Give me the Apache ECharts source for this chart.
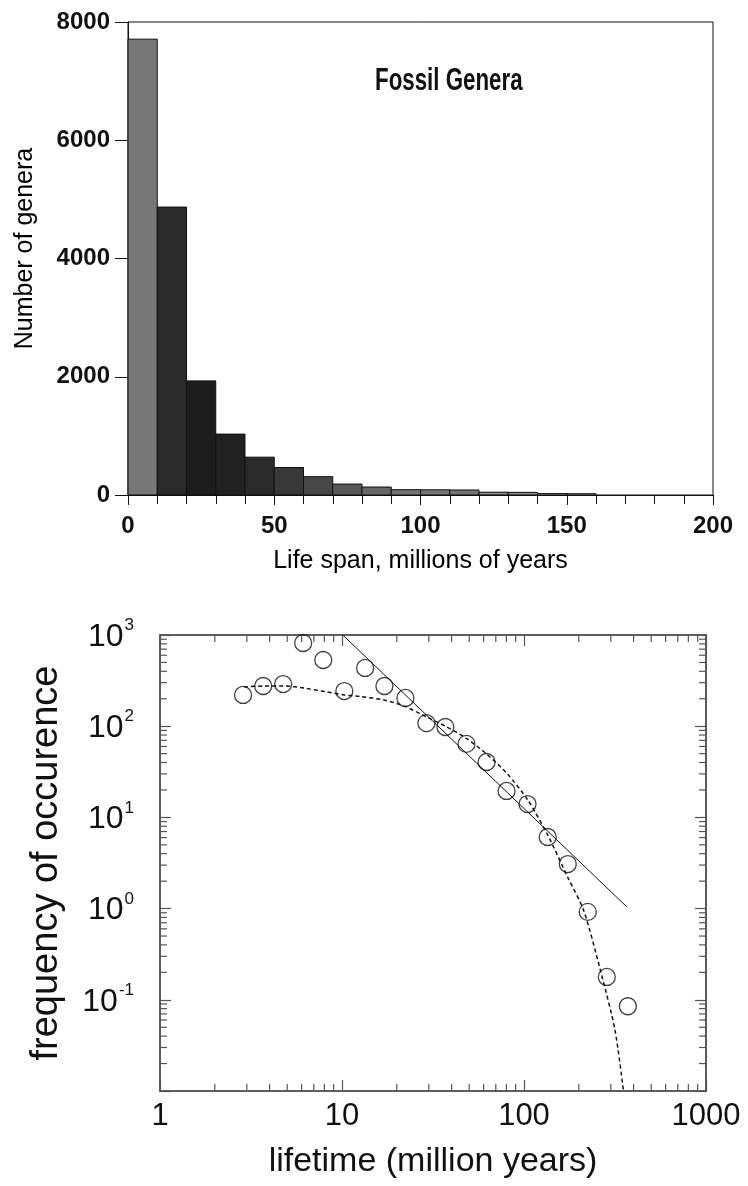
<!DOCTYPE html>
<html>
<head>
<meta charset="utf-8">
<script src="https://cdn.jsdelivr.net/npm/echarts@6/dist/echarts.min.js"></script>
<style>
  html, body { margin: 0; padding: 0; background: #fff; }
  #chart { width: 748px; height: 1186px; }
</style>
</head>
<body>
<div id="chart"></div>
<script>
// top: histogram of fossil genera life spans (bin start, 10 My wide)
const binStarts = [0, 10, 20, 30, 40, 50, 60, 70, 80, 90, 100, 110, 120, 130, 140, 150];
const binCounts = [7710, 4870, 1930, 1030, 640, 465, 310, 185, 135, 90, 88, 85, 48, 45, 24, 22];
const binWidth = 10;

// bottom: log-log frequency of occurence vs lifetime
const lifetimes = [2.86, 3.69, 4.75, 6.12, 7.89, 10.3, 13.4, 17.1, 22.3, 29.1,
  37.0, 48.3, 62.3, 80.2, 104.6, 135, 174, 224, 285, 372];
const frequencies = [220, 276, 290, 817, 532, 243, 435, 276, 204, 108,
  98, 64, 40.5, 19.5, 14, 6.1, 3.08, 0.92, 0.178, 0.085];

// power law fit (solid), end points
const powerX = [10.1, 368];
const powerY = [1000, 1.04];

// fitted curve (dashed)
const curveX = [2.9, 3.7, 4.8, 6.2, 8, 10.3, 12.6, 17, 22.3, 29, 37, 48, 62, 81, 105, 135, 174, 213, 263, 316, 352];
const curveY = [269, 276, 276, 262, 240, 220, 211, 194, 164, 127, 100, 74, 50, 30, 15.5, 6.4, 2.2, 0.95, 0.21, 0.047, 0.01];

var chart = echarts.init(document.getElementById('chart'));

// bar fill shades, darker for the tall bins
const shades = ['#777777', '#2a2a2a', '#1d1d1d', '#212121', '#2a2a2a', '#383838', '#474747',
  '#585858', '#666666', '#747474', '#747474', '#747474', '#888888', '#888888', '#999999', '#999999'];

// minor tick positions on log axes (2..9 per decade)
function minorTicks(lo, hi) {
  const out = [];
  for (let e = lo; e < hi; e++) {
    for (let m = 2; m <= 9; m++) out.push(m * Math.pow(10, e));
  }
  return out;
}
const xMinor = minorTicks(0, 3);
const yMinor = minorTicks(-2, 3);

const histData = binStarts.map((s, i) => [s, s + binWidth, binCounts[i]]);

let option = {
  backgroundColor: '#fff',
  animation: false,
  graphic: [
    {
      // condensed bold title
      type: 'text',
      x: 375,
      y: 81,
      scaleX: 0.72,
      style: {
        text: 'Fossil Genera',
        font: 'bold 31px "Liberation Sans", Arial, sans-serif',
        fill: '#111',
        textAlign: 'left',
        textVerticalAlign: 'middle',
      },
    },
  ],
  grid: [
    {
      left: 128, top: 22, width: 585, height: 473,
      show: true, borderColor: '#111', borderWidth: 1,
    },
    {
      left: 160, top: 635, width: 546, height: 456,
      show: true, borderColor: '#555', borderWidth: 1.6,
    },
  ],
  xAxis: [
    {
      gridIndex: 0,
      type: 'value',
      min: 0, max: 200, interval: 50,
      name: 'Life span, millions of years',
      nameLocation: 'middle',
      nameGap: 54,
      nameTextStyle: { fontFamily: 'Liberation Sans', fontSize: 25, color: '#000' },
      axisLine: { lineStyle: { color: '#111', width: 1 } },
      axisTick: { length: 10, lineStyle: { color: '#111' } },
      minorTick: { show: true, splitNumber: 5, length: 9, lineStyle: { color: '#111' } },
      splitLine: { show: false },
      axisLabel: { margin: 19, fontFamily: 'Liberation Sans', fontSize: 24, fontWeight: 'bold', color: '#111' },
    },
    {
      gridIndex: 1,
      type: 'log', logBase: 10,
      min: 1, max: 1000,
      name: 'lifetime (million years)',
      nameLocation: 'middle',
      nameGap: 54,
      nameTextStyle: { fontFamily: 'Liberation Sans', fontSize: 34, color: '#111' },
      axisLine: { lineStyle: { color: '#555', width: 1.6 } },
      axisTick: { inside: true, length: 11, lineStyle: { color: '#555', width: 1.2 } },
      splitLine: { show: false },
      axisLabel: {
        margin: 10, fontFamily: 'Liberation Sans', fontSize: 31, color: '#111',
        formatter: v => String(Math.round(v)),
      },
    },
    {
      gridIndex: 1,
      type: 'log', logBase: 10,
      min: 1, max: 1000,
      position: 'top',
      axisLine: { lineStyle: { color: '#555', width: 1.6 } },
      axisTick: { inside: true, length: 11, lineStyle: { color: '#555', width: 1.2 } },
      axisLabel: { show: false },
      splitLine: { show: false },
    },
  ],
  yAxis: [
    {
      gridIndex: 0,
      type: 'value',
      min: 0, max: 8000, interval: 2000,
      name: 'Number of genera',
      nameLocation: 'middle',
      nameGap: 90,
      nameTextStyle: { fontFamily: 'Liberation Sans', fontSize: 25, color: '#000', padding: [0, 0, 0, 20] },
      axisLine: { show: true, lineStyle: { color: '#111', width: 1 } },
      axisTick: { show: true, length: 13, lineStyle: { color: '#111' } },
      splitLine: { show: false },
      axisLabel: {
        margin: 18, fontFamily: 'Liberation Sans', fontSize: 24, fontWeight: 'bold', color: '#111',
        formatter: v => String(v),
      },
    },
    {
      gridIndex: 1,
      type: 'log', logBase: 10,
      min: 0.01, max: 1000,
      name: 'frequency of occurence',
      nameLocation: 'middle',
      nameGap: 94,
      nameTextStyle: { fontFamily: 'Liberation Sans', fontSize: 38, color: '#111' },
      axisLine: { show: true, lineStyle: { color: '#555', width: 1.6 } },
      axisTick: { show: true, inside: true, length: 11, lineStyle: { color: '#555', width: 1.2 } },
      splitLine: { show: false },
      axisLabel: {
        margin: 26,
        formatter: v => {
          const e = Math.round(Math.log10(v));
          if (e === -2) return '';
          return '{b|10}{s|' + e + '}';
        },
        rich: {
          b: { fontFamily: 'Liberation Sans', fontSize: 32, color: '#111', lineHeight: 36, verticalAlign: 'bottom' },
          s: { fontFamily: 'Liberation Sans', fontSize: 17, color: '#111', lineHeight: 18, verticalAlign: 'top', padding: [0, 0, 0, 1] },
        },
      },
    },
    {
      gridIndex: 1,
      type: 'log', logBase: 10,
      min: 0.01, max: 1000,
      position: 'right',
      axisLine: { show: true, lineStyle: { color: '#555', width: 1.6 } },
      axisTick: { show: true, inside: true, length: 11, lineStyle: { color: '#555', width: 1.2 } },
      axisLabel: { show: false },
      splitLine: { show: false },
    },
  ],
  series: [
    {
      type: 'custom',
      xAxisIndex: 0, yAxisIndex: 0,
      data: histData,
      encode: { x: [0, 1], y: 2 },
      renderItem: (params, api) => {
        const p0 = api.coord([api.value(0), api.value(2)]);
        const p1 = api.coord([api.value(1), 0]);
        return {
          type: 'rect',
          shape: { x: p0[0], y: p0[1], width: p1[0] - p0[0], height: p1[1] - p0[1] },
          style: { fill: shades[params.dataIndex], stroke: '#111', lineWidth: 1 },
        };
      },
    },
    {
      // minor ticks on bottom and top x axes
      type: 'custom',
      xAxisIndex: 1, yAxisIndex: 1,
      silent: true,
      data: xMinor.map(v => [v, 1]),
      renderItem: (params, api) => {
        const b = api.coord([api.value(0), 0.01]);
        const t = api.coord([api.value(0), 1000]);
        const st = { stroke: '#555', lineWidth: 1.2 };
        return {
          type: 'group',
          children: [
            { type: 'line', shape: { x1: b[0], y1: b[1], x2: b[0], y2: b[1] - 7 }, style: st },
            { type: 'line', shape: { x1: t[0], y1: t[1], x2: t[0], y2: t[1] + 7 }, style: st },
          ],
        };
      },
    },
    {
      // minor ticks on left and right y axes
      type: 'custom',
      xAxisIndex: 1, yAxisIndex: 1,
      silent: true,
      data: yMinor.map(v => [1, v]),
      renderItem: (params, api) => {
        const l = api.coord([1, api.value(1)]);
        const r = api.coord([1000, api.value(1)]);
        const st = { stroke: '#555', lineWidth: 1.2 };
        return {
          type: 'group',
          children: [
            { type: 'line', shape: { x1: l[0], y1: l[1], x2: l[0] + 7, y2: l[1] }, style: st },
            { type: 'line', shape: { x1: r[0], y1: r[1], x2: r[0] - 7, y2: r[1] }, style: st },
          ],
        };
      },
    },
    {
      type: 'line',
      xAxisIndex: 1, yAxisIndex: 1,
      data: powerX.map((x, i) => [x, powerY[i]]),
      showSymbol: false,
      lineStyle: { color: '#111', width: 1 },
      z: 3,
    },
    {
      type: 'line',
      xAxisIndex: 1, yAxisIndex: 1,
      data: curveX.map((x, i) => [x, curveY[i]]),
      showSymbol: false,
      smooth: 0.25,
      lineStyle: { color: '#111', width: 1.5, type: [4, 3] },
      z: 3,
    },
    {
      type: 'scatter',
      xAxisIndex: 1, yAxisIndex: 1,
      data: lifetimes.map((x, i) => [x, frequencies[i]]),
      symbol: 'circle',
      symbolSize: 17,
      itemStyle: { color: 'rgba(255,255,255,0)', borderColor: '#111', borderWidth: 1.3 },
      z: 4,
    },
  ],
};

chart.setOption(option);
</script>
</body>
</html>
